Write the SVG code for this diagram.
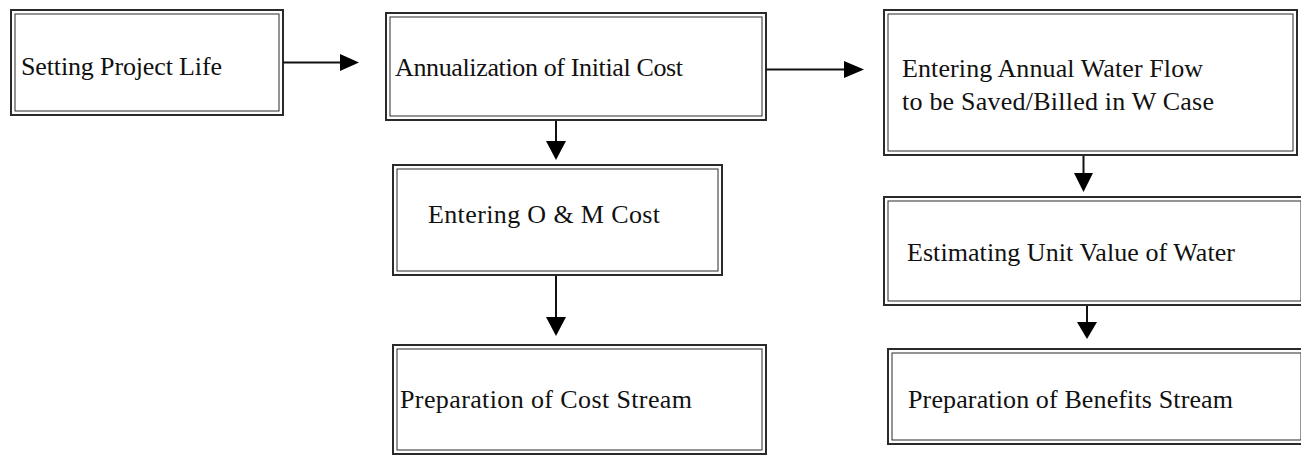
<svg xmlns="http://www.w3.org/2000/svg" width="1301" height="456" viewBox="0 0 1301 456">
<style>
.o{fill:#fff;stroke:#2a2a2a;stroke-width:2}
.i{fill:none;stroke:#2a2a2a;stroke-width:1}
.t{font-family:"Liberation Serif","Times New Roman",serif;font-size:26px;fill:#111}
.c line{stroke:#111;stroke-width:2}
.c polygon{fill:#000}
</style>
<rect width="1301" height="456" fill="#fff"/>
<g id="n1"><rect class="o" x="11" y="10" width="272" height="105"/><rect class="i" x="15" y="14" width="264" height="97"/><text class="t" x="21" y="75" textLength="201" lengthAdjust="spacing">Setting Project Life</text></g>
<g id="n2"><rect class="o" x="386" y="13" width="380" height="107"/><rect class="i" x="390" y="17" width="372" height="99"/><text class="t" x="395" y="76" textLength="288" lengthAdjust="spacing">Annualization of Initial Cost</text></g>
<g id="n3"><rect class="o" x="884" y="10" width="413" height="145"/><rect class="i" x="888" y="14" width="405" height="137"/><text class="t" x="902" y="77" textLength="301" lengthAdjust="spacing">Entering Annual Water Flow</text><text class="t" x="902" y="110" textLength="312" lengthAdjust="spacing">to be Saved/Billed in W Case</text></g>
<g id="n4"><rect class="o" x="393" y="165" width="329" height="110"/><rect class="i" x="397" y="169" width="321" height="102"/><text class="t" x="428" y="223" textLength="232" lengthAdjust="spacing">Entering O &amp; M Cost</text></g>
<g id="n5"><rect class="o" x="393" y="345" width="373" height="109"/><rect class="i" x="397" y="349" width="365" height="101"/><text class="t" x="400" y="408" textLength="292" lengthAdjust="spacing">Preparation of Cost Stream</text></g>
<g id="n6"><rect class="o" x="884" y="197" width="421" height="108"/><rect class="i" x="888" y="201" width="413" height="100"/><text class="t" x="907" y="261" textLength="328" lengthAdjust="spacing">Estimating Unit Value of Water</text></g>
<g id="n7"><rect class="o" x="888" y="349" width="417" height="95"/><rect class="i" x="892" y="353" width="409" height="87"/><text class="t" x="908" y="408" textLength="325" lengthAdjust="spacing">Preparation of Benefits Stream</text></g>
<g id="connectors" class="c">
<line x1="283" y1="62.5" x2="342" y2="62.5"/><polygon points="340,54 359,62.5 340,71"/>
<line x1="766" y1="69.5" x2="846" y2="69.5"/><polygon points="844,61 864,69.5 844,78"/>
<line x1="556" y1="121" x2="556" y2="143"/><polygon points="546,141 566,141 556,160"/>
<line x1="556" y1="276" x2="556" y2="319"/><polygon points="546,317 566,317 556,336"/>
<line x1="1083.5" y1="156" x2="1083.5" y2="175"/><polygon points="1074,173 1093,173 1083.5,192"/>
<line x1="1087" y1="306" x2="1087" y2="324"/><polygon points="1077,322 1097,322 1087,339"/>
</g>
</svg>
